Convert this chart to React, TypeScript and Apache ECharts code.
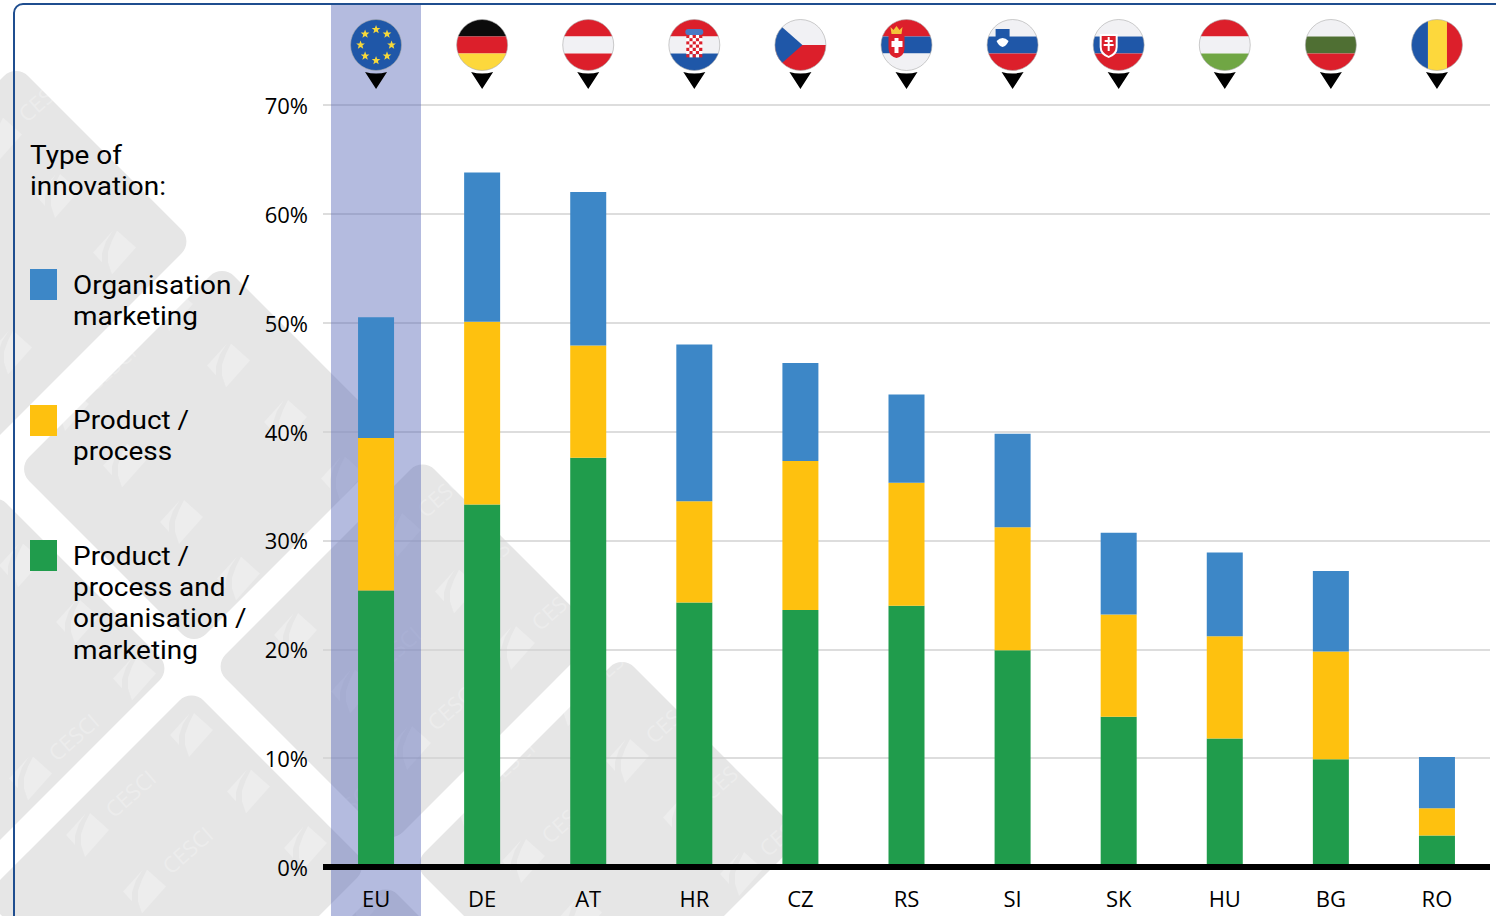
import React, { useEffect, useRef } from "react";
import * as echarts from "echarts";

const categories = ["EU", "DE", "AT", "HR", "CZ", "RS", "SI", "SK", "HU", "BG", "RO"];
const bothTypes = [25.4, 33.3, 37.6, 24.3, 23.6, 24.0, 19.9, 13.8, 11.8, 9.9, 2.9];
const productProcess = [14.0, 16.8, 10.3, 9.3, 13.7, 11.3, 11.3, 9.4, 9.4, 9.9, 2.5];
const organisationMarketing = [11.1, 13.7, 14.1, 14.4, 9.0, 8.1, 8.6, 7.5, 7.7, 7.4, 4.7];

const FONT = "'Open Sans', 'Noto Sans', sans-serif";
const LEGEND_FONT = "Roboto, 'Open Sans', sans-serif";
const BLUE = "#3d87c7";
const YELLOW = "#fec10f";
const GREEN = "#209c4c";
const RED = "#dc1f2b";
const FBLUE = "#1f57a8";
const WHITE = "#f1f1f4";

const GRID_LEFT = 323;
const GRID_RIGHT = 1490;
const STEP = (GRID_RIGHT - GRID_LEFT) / categories.length;

// background rotated tiles: [u0, u1, v0, v1], u = x + y, v = x - y
const tiles = [
  [80, 435, -465, -48],
  [486, 840, -452, -42],
  [880, 1235, -453, -35],
  [1277, 1640, -452, -33],
  [486, 840, -914, -497],
  [880, 1235, -914, -497],
  [1268, 1640, -914, -497],
];

function tile([u0, u1, v0, v1]: number[]) {
  const cu = (u0 + u1) / 2;
  const cv = (v0 + v1) / 2;
  const su = (u1 - u0) / Math.SQRT2;
  const sv = (v1 - v0) / Math.SQRT2;
  return {
    type: "rect",
    x: (cu + cv) / 2,
    y: (cu - cv) / 2,
    rotation: -Math.PI / 4,
    z: -3,
    silent: true,
    shape: { x: -su / 2, y: -sv / 2, width: su, height: sv, r: 17 },
    style: { fill: "#e6e6e6" },
  };
}

// zones holding foreground labels: [x0, y0, x1, y1]
const labelZones = [
  [20, 135, 260, 205],
  [20, 265, 260, 335],
  [20, 400, 260, 470],
  [20, 535, 260, 670],
  [255, 90, 318, 885],
  [350, 880, 900, 916],
];

function hitsLabel(tx: number, ty: number) {
  const m = 28;
  return labelZones.some(([x0, y0, x1, y1]) => tx + m > x0 && tx - m < x1 && ty + m > y0 && ty - m < y1);
}

function watermarks() {
  const out: any[] = [];
  const fill = "rgba(255,255,255,0.27)";
  for (let i = -14; i <= 14; i++) {
    for (let j = -8; j <= 8; j++) {
      const x = 192 + i * 57 + j * -104;
      const y = 733 + i * 56.5 + j * 100;
      if (x < -30 || x > 830 || y < 40 || y > 960) continue;
      out.push({
        type: "polygon", x, y, z: -2, silent: true,
        shape: { points: [[-22, 2], [-2, -20], [-9, -9], [-13, 3], [-13, 12]] },
        style: { fill },
      });
      out.push({
        type: "polygon", x, y, z: -2, silent: true,
        shape: { points: [[2, -20], [21, -3], [-3, 24], [-7, 12], [-7, 1], [-3, -10]] },
        style: { fill },
      });
      const tx = x + 42;
      const ty = y - 40;
      if (tx < 40 || tx > 800 || ty < 40 || ty > 880 || hitsLabel(tx, ty)) continue;
      out.push({
        type: "text", x: tx, y: ty, rotation: 0.72, z: -2, silent: true,
        style: { text: "CESCI", fill, font: `22px ${FONT}`, textAlign: "center", textVerticalAlign: "middle" },
      });
    }
  }
  return out;
}

function stripes(a: string, b: string, c: string) {
  return `<rect x="-30" y="-30" width="60" height="21.5" fill="${a}"/><rect x="-30" y="-8.5" width="60" height="17" fill="${b}"/><rect x="-30" y="8.5" width="60" height="21.5" fill="${c}"/>`;
}

function star(cx: number, cy: number, r: number) {
  const pts: string[] = [];
  for (let k = 0; k < 10; k++) {
    const a = -Math.PI / 2 + (k * Math.PI) / 5;
    const q = k % 2 ? r * 0.42 : r;
    pts.push(`${(cx + q * Math.cos(a)).toFixed(2)},${(cy + q * Math.sin(a)).toFixed(2)}`);
  }
  return `<polygon points="${pts.join(" ")}" fill="#f6d83a"/>`;
}

function euFlag() {
  let s = `<rect x="-30" y="-30" width="60" height="60" fill="#1f57a8"/>`;
  for (let k = 0; k < 8; k++) {
    const a = -Math.PI / 2 + (k * Math.PI) / 4;
    s += star(15.5 * Math.cos(a), 15.5 * Math.sin(a), 4.6);
  }
  return s;
}

function hrFlag() {
  let s = stripes(RED, WHITE, FBLUE);
  s += `<rect x="-9" y="-16" width="18" height="6" rx="3" fill="#4a79c4"/>`;
  for (let r = 0; r < 7; r++) {
    for (let c = 0; c < 5; c++) {
      s += `<rect x="${-8 + c * 3.2}" y="${-10 + r * 3.2}" width="3.2" height="3.2" fill="${(r + c) % 2 ? "#fff" : RED}"/>`;
    }
  }
  return s;
}

const czFlag = `<rect x="-30" y="-30" width="60" height="30" fill="${WHITE}"/><rect x="-30" y="0" width="60" height="30" fill="${RED}"/><polygon points="-31,-29 2,0 -31,29" fill="${FBLUE}"/>`;
const rsFlag =
  stripes(RED, FBLUE, WHITE) +
  `<polygon points="-16,-18 -13,-15 -10,-19 -7,-15 -4,-18 -5,-11 -15,-11" fill="#f3c53a"/><path d="M-18,-9 h16 v12 q0,8 -8,10 q-8,-2 -8,-10 z" fill="${RED}"/><path d="M-12,-7 h4 v3 h4 v6 h-4 v6 h-4 v-6 h-3 v-6 h3 z" fill="#fff"/>`;
const siFlag =
  stripes(WHITE, FBLUE, RED) +
  `<path d="M-17,-16 h14 v10 q0,6 -7,8 q-7,-2 -7,-8 z" fill="${FBLUE}"/><path d="M-16,-4 q3,-3 6,-3 q3,0 6,3 q-2,5 -6,6 q-4,-1 -6,-6 z" fill="#fff"/>`;
const skFlag =
  stripes(WHITE, FBLUE, RED) +
  `<path d="M-19,-11 h18 v13 q0,8 -9,11 q-9,-3 -9,-11 z" fill="#fff"/><path d="M-17,-9 h14 v11 q0,6 -7,9 q-7,-3 -7,-9 z" fill="${RED}"/><path d="M-11,-8 h2 v3 h3 v2 h-3 v2 h4 v2 h-4 v5 h-2 v-5 h-4 v-2 h4 v-2 h-3 v-2 h3 z" fill="#fff"/>`;
const roFlag = `<rect x="-30" y="-30" width="21" height="60" fill="${FBLUE}"/><rect x="-9" y="-30" width="19" height="60" fill="#fdd83c"/><rect x="10" y="-30" width="20" height="60" fill="${RED}"/>`;

const flags = [
  euFlag(),
  stripes("#0b0b0b", RED, "#fdd83c"),
  stripes(RED, WHITE, RED),
  hrFlag(),
  czFlag,
  rsFlag,
  siFlag,
  skFlag,
  stripes(RED, WHITE, "#70a644"),
  stripes(WHITE, "#4f6f33", RED),
  roFlag,
];

function pinImage(body: string) {
  const svg = `<svg xmlns="http://www.w3.org/2000/svg" width="60" height="80" viewBox="-30 -30 60 80"><defs><clipPath id="c"><circle r="25.5"/></clipPath></defs><g clip-path="url(#c)">${body}</g><circle r="25.5" fill="none" stroke="#a9a9a9" stroke-width="0.6"/><path d="M-11,27 Q0,30 11,27 L0,44 Z" fill="#000"/></svg>`;
  return "data:image/svg+xml;charset=utf-8," + encodeURIComponent(svg);
}

const legendItems = [
  { color: BLUE, top: 269, lines: ["Organisation /", "marketing"], ys: [285, 316] },
  { color: YELLOW, top: 405, lines: ["Product /", "process"], ys: [420, 451.5] },
  { color: GREEN, top: 540, lines: ["Product /", "process and", "organisation /", "marketing"], ys: [556, 587, 618.5, 650] },
];

function label(text: string, x: number, y: number) {
  return {
    type: "text", x, y, z: 6, silent: true, scaleX: 1.075,
    style: { text, fill: "#000", font: `400 26px ${LEGEND_FONT}`, textAlign: "left", textVerticalAlign: "middle" },
  };
}

function buildGraphic() {
  const els: any[] = [...tiles.map(tile), ...watermarks()];
  els.push({
    type: "rect", z: 1, silent: true,
    shape: { x: 14, y: 4, width: 1600, height: 1100, r: 9 },
    style: { fill: "none", stroke: "#1f4e8f", lineWidth: 2 },
  });
  els.push({
    type: "rect", z: 1, silent: true,
    shape: { x: 331, y: 5, width: 90, height: 911 },
    style: { fill: "rgba(84,100,182,0.44)" },
  });
  flags.forEach((body, i) => {
    const cx = GRID_LEFT + STEP * (i + 0.5);
    els.push({
      type: "image", z: 6, silent: true,
      style: { image: pinImage(body), x: cx - 30, y: 15, width: 60, height: 80 },
    });
  });
  els.push(label("Type of", 30, 155), label("innovation:", 30, 186));
  legendItems.forEach((it) => {
    els.push({
      type: "rect", z: 6, silent: true,
      shape: { x: 30, y: it.top, width: 27, height: 31 },
      style: { fill: it.color },
    });
    it.lines.forEach((t, k) => els.push(label(t, 73, it.ys[k])));
  });
  return els;
}

const seriesOf = (name: string, data: number[], color: string) => ({
  name,
  type: "bar" as const,
  stack: "total",
  barWidth: 36,
  data,
  itemStyle: { color },
});

export default function App() {
  const ref = useRef<HTMLDivElement>(null);
  useEffect(() => {
    document.body.style.margin = "0";
    document.body.style.overflow = "hidden";
    const chart = echarts.init(ref.current!, null, { renderer: "svg" });
    chart.setOption({
      animation: false,
      backgroundColor: "#fff",
      grid: { left: GRID_LEFT, right: 1496 - GRID_RIGHT, top: 105, bottom: 49 },
      xAxis: {
        type: "category",
        data: categories,
        z: 3,
        axisTick: { show: false },
        axisLine: { lineStyle: { color: "#000", width: 6, cap: "butt" } },
        axisLabel: { color: "#000", fontFamily: FONT, fontSize: 22, margin: 20 },
      },
      yAxis: {
        type: "value",
        min: 0,
        max: 70,
        interval: 10,
        axisLine: { show: false },
        axisTick: { show: false },
        axisLabel: { color: "#000", fontFamily: FONT, fontSize: 22, margin: 15, padding: [0, 0, 4, 0], formatter: "{value}%" },
        splitLine: { lineStyle: { color: "#d2d2d2", width: 1.5 } },
      },
      series: [
        seriesOf("Product / process and organisation / marketing", bothTypes, GREEN),
        seriesOf("Product / process", productProcess, YELLOW),
        seriesOf("Organisation / marketing", organisationMarketing, BLUE),
      ],
      graphic: { elements: buildGraphic() },
    });
    return () => chart.dispose();
  }, []);
  return <div ref={ref} style={{ position: "fixed", left: 0, top: 0, width: 1496, height: 916 }} />;
}
